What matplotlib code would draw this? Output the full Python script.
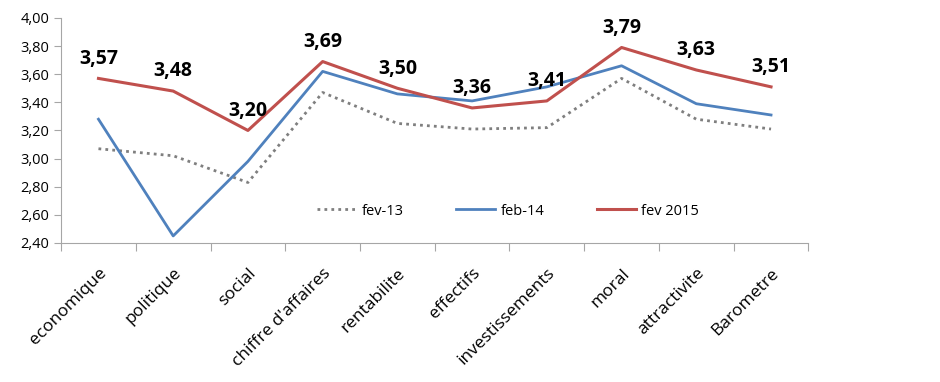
import numpy as np
import matplotlib.pyplot as plt

categories = ['economique', 'politique', 'social', "chiffre d'affaires", 'rentabilite',
              'effectifs', 'investissements', 'moral', 'attractivite', 'Barometre']
fev13 = [3.07, 3.02, 2.83, 3.47, 3.25, 3.21, 3.22, 3.57, 3.28, 3.21]
feb14 = [3.28, 2.45, 2.98, 3.62, 3.46, 3.41, 3.51, 3.66, 3.39, 3.31]
fev2015 = [3.57, 3.48, 3.20, 3.69, 3.50, 3.36, 3.41, 3.79, 3.63, 3.51]

plt.rcParams['font.family'] = ['Open Sans', 'DejaVu Sans']

fig = plt.figure(figsize=(9.4, 3.82), dpi=100)
ax = fig.add_axes([0.065, 0.364, 0.795, 0.589])

x = np.arange(len(categories)) + 0.5
ax.plot(x, fev13, color='#7f7f7f', lw=2, ls=(0, (1, 1.5)), label='fev-13')
ax.plot(x, feb14, color='#4f81bd', lw=2, label='feb-14')
ax.plot(x, fev2015, color='#c0504d', lw=2.2, label='fev 2015')

# labels on the 2015 line
for xi, v in zip(x, fev2015):
    ax.annotate(f'{v:.2f}'.replace('.', ','), (xi, v), xytext=(0, 7), textcoords='offset points',
                ha='center', va='bottom', fontsize=14, fontweight='bold')

ax.set_xlim(0, len(categories))
ax.set_ylim(2.4, 4.0)
yt = np.arange(2.4, 4.01, 0.2)
ax.set_yticks(yt)
ax.set_yticklabels([f'{t:.2f}'.replace('.', ',') for t in yt], fontsize=10.5)

ax.set_xticks(np.arange(len(categories) + 1))
ax.set_xticklabels([])
ax.set_xticks(x, minor=True)
ax.set_xticklabels(categories, minor=True, rotation=45, ha='right', rotation_mode='anchor',
                   fontsize=12.5)
ax.tick_params(axis='x', which='minor', length=0, pad=16)
ax.tick_params(axis='x', which='major', length=6, color='#a6a6a6')
ax.tick_params(axis='y', length=5, color='#a6a6a6')

for s in ['top', 'right']:
    ax.spines[s].set_visible(False)
for s in ['left', 'bottom']:
    ax.spines[s].set_color('#a6a6a6')

ax.legend(loc='center', bbox_to_anchor=(0.598, 0.142), ncol=3, frameon=False, fontsize=10.5,
          handlelength=2.7, handletextpad=0.35, columnspacing=3.6)

fig.savefig('out.png')
